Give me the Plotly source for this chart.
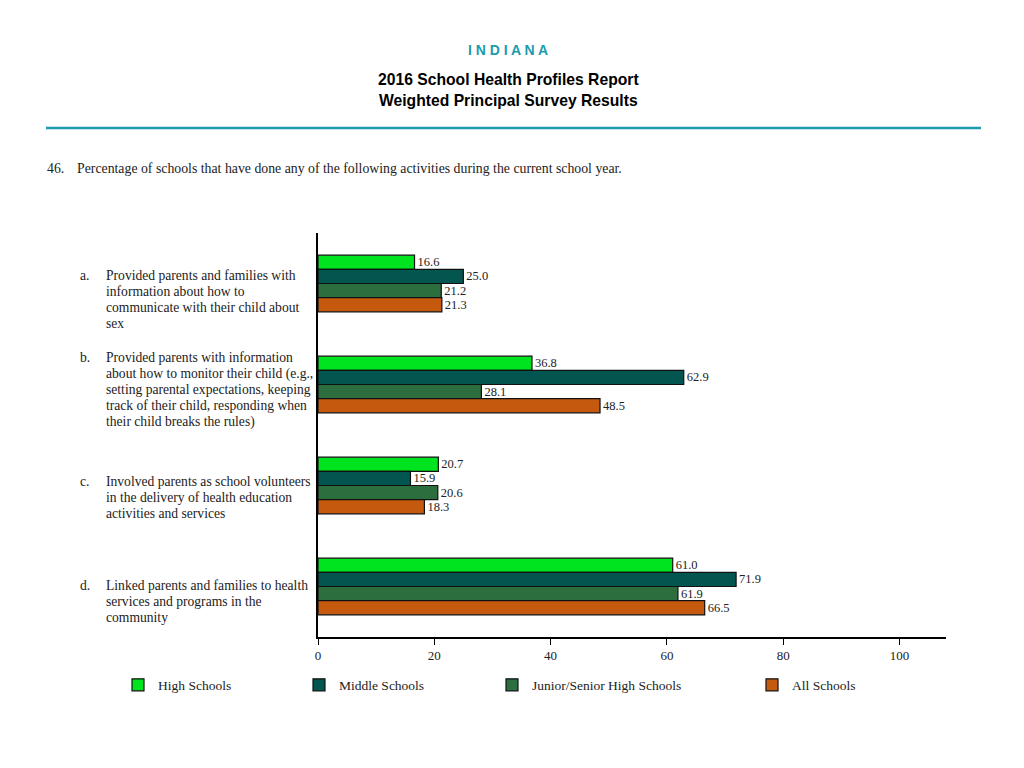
import plotly.graph_objects as go

# data
categories = ["a", "b", "c", "d"]
label_letters = ["a.", "b.", "c.", "d."]
label_lines = [
    ["Provided parents and families with", "information about how to",
     "communicate with their child about", "sex"],
    ["Provided parents with information", "about how to monitor their child (e.g.,",
     "setting parental expectations, keeping", "track of their child, responding when",
     "their child breaks the rules)"],
    ["Involved parents as school volunteers", "in the delivery of health education",
     "activities and services"],
    ["Linked parents and families to health", "services and programs in the", "community"],
]
series_names = ["High Schools", "Middle Schools", "Junior/Senior High Schools", "All Schools"]
high_schools = [16.6, 36.8, 20.7, 61.0]
middle_schools = [25.0, 62.9, 15.9, 71.9]
junior_senior = [21.2, 28.1, 20.6, 61.9]
all_schools = [21.3, 48.5, 18.3, 66.5]
tick_vals = [0, 20, 40, 60, 80, 100]

colors = ["#00e31f", "#03554f", "#2d6e3f", "#c55a0f"]
values = [high_schools, middle_schools, junior_senior, all_schools]

# page is drawn with an 8px body margin, so page px = figure px + 8
OFF = 8
W, H = 1024, 768
L, R, T, B = 318 - OFF, 946 - OFF, 233 - OFF, 637 - OFF


def px_x(px):
    return (px - OFF - L) / (R - L)


def px_y(py):
    return (B - (py - OFF)) / (B - T)


SERIF = "Liberation Serif, Times New Roman, serif"
SANS = "Liberation Sans, Arial, sans-serif"

fig = go.Figure()
legend_text_x = [158, 339, 532, 792]
for i, (name, vals) in enumerate(zip(series_names, values)):
    lg = "legend" if i == 0 else "legend%d" % (i + 1)
    fig.add_trace(go.Bar(
        y=categories, x=vals, name=name, orientation="h",
        marker=dict(color=colors[i], line=dict(color="#111111", width=1.2)),
        text=vals, texttemplate="%{x:.1f}", textposition="outside",
        textfont=dict(family=SERIF, size=12.5, color="#222222"),
        constraintext="none", cliponaxis=False, legend=lg, showlegend=True,
    ))

legends = {}
for i, tx in enumerate(legend_text_x):
    key = "legend" if i == 0 else "legend%d" % (i + 1)
    legends[key] = dict(
        x=px_x(tx - 40), y=px_y(685), xanchor="left", yanchor="middle",
        orientation="h", bgcolor="rgba(0,0,0,0)",
        font=dict(family=SERIF, size=13.5, color="#222222"),
    )

annotations = [
    dict(text="<b>I N D I A N A</b>", x=px_x(508), y=px_y(50), xref="paper", yref="paper",
         showarrow=False, font=dict(family=SANS, size=14, color="#1b9bb0"), xanchor="center", yanchor="middle"),
    dict(text="<b>2016 School Health Profiles Report</b>", x=px_x(508), y=px_y(79), xref="paper", yref="paper",
         showarrow=False, font=dict(family=SANS, size=15.7, color="#000000"), xanchor="center", yanchor="middle"),
    dict(text="<b>Weighted Principal Survey Results</b>", x=px_x(508), y=px_y(101), xref="paper", yref="paper",
         showarrow=False, font=dict(family=SANS, size=15.7, color="#000000"), xanchor="center", yanchor="middle"),
    dict(text="46.", x=px_x(45), y=px_y(168), xref="paper", yref="paper", showarrow=False,
         font=dict(family=SERIF, size=13.8, color="#222222"), xanchor="left", yanchor="middle"),
    dict(text="Percentage of schools that have done any of the following activities during the current school year.",
         x=px_x(75), y=px_y(168), xref="paper", yref="paper", showarrow=False,
         font=dict(family=SERIF, size=13.8, color="#222222"), xanchor="left", yanchor="middle"),
]

# vertical offset of the first label line from the bar-group centre, line spacing 16px
first_line_shift = [8.5, 27, 4, 1]
for cat, letter, lines, ys in zip(categories, label_letters, label_lines, first_line_shift):
    annotations.append(dict(text=letter, x=px_x(78), y=cat, xref="paper", yref="y", yshift=ys,
                            showarrow=False, xanchor="left", yanchor="middle",
                            font=dict(family=SERIF, size=13.6, color="#222222")))
    for k, line in enumerate(lines):
        annotations.append(dict(text=line, x=px_x(104), y=cat, xref="paper", yref="y",
                                yshift=ys - 16 * k, showarrow=False, xanchor="left", yanchor="middle",
                                font=dict(family=SERIF, size=13.6, color="#222222")))

fig.update_layout(
    width=W, height=H,
    margin=dict(l=L, r=W - R, t=T, b=H - B, pad=0),
    paper_bgcolor="white", plot_bgcolor="white",
    barmode="group", bargap=0.44, bargroupgap=0,
    annotations=annotations,
    shapes=[dict(type="line", xref="paper", yref="paper", x0=px_x(46), x1=px_x(981),
                 y0=px_y(128), y1=px_y(128), line=dict(color="#1b9bb0", width=2.5))],
    xaxis=dict(range=[0, 108], tickvals=tick_vals, showgrid=False, zeroline=False,
               showline=True, linecolor="#000000", linewidth=1.5, ticks="outside",
               ticklen=6, tickcolor="#000000", tickfont=dict(family=SERIF, size=13, color="#222222")),
    yaxis=dict(autorange="reversed", showticklabels=False, showgrid=False, zeroline=False,
               showline=True, linecolor="#000000", linewidth=1.5, ticks=""),
    **legends,
)

fig.write_html("out.html")
